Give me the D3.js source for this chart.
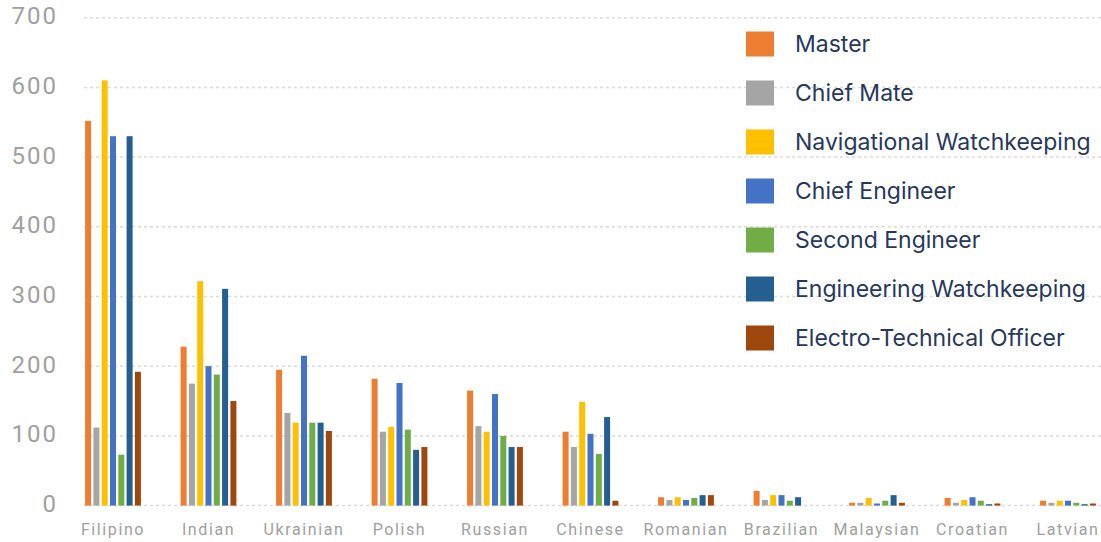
<!DOCTYPE html>
<html>
<head>
<meta charset="utf-8">
<script src="https://cdn.jsdelivr.net/npm/d3@7"></script>
<style>
  html, body { margin: 0; padding: 0; background: #ffffff; }
  svg { display: block; }
</style>
</head>
<body>
<svg id="chart" width="1101" height="542"></svg>
<script>
// Officers holding certificates, by nationality and certificate type
const categories = ["Filipino", "Indian", "Ukrainian", "Polish", "Russian", "Chinese",
                    "Romanian", "Brazilian", "Malaysian", "Croatian", "Latvian"];

const seriesNames = ["Master", "Chief Mate", "Navigational Watchkeeping", "Chief Engineer",
                     "Second Engineer", "Engineering Watchkeeping", "Electro-Technical Officer"];

const master      = [552, 228, 195, 182, 165, 106, 12, 21, 4, 11, 7];
const chiefMate   = [112, 175, 133, 106, 114, 84, 8, 8, 4, 4, 4];
const navWatch    = [610, 322, 119, 113, 106, 149, 12, 15, 11, 8, 7];
const chiefEng    = [530, 200, 215, 176, 160, 103, 8, 15, 3, 12, 7];
const secondEng   = [73, 188, 119, 109, 100, 74, 11, 7, 7, 7, 4];
const engWatch    = [530, 311, 119, 80, 84, 127, 15, 12, 15, 2, 2];
const eto         = [192, 150, 107, 84, 84, 7, 15, 0, 4, 3, 3];

const yTicks = [0, 100, 200, 300, 400, 500, 600, 700];

const seriesValues = [master, chiefMate, navWatch, chiefEng, secondEng, engWatch, eto];
const colors = ["#ED7D31", "#A5A5A5", "#FFC000", "#4472C4", "#70AD47", "#255E91", "#9E480E"];

const svg = d3.select("#chart");

const x = d3.scaleBand()
  .domain(categories)
  .range([65.25, 1115.75]);

const xInner = d3.scaleBand()
  .domain(seriesNames)
  .range([-29.05, 29.05])
  .paddingInner(0.277)
  .paddingOuter(0.1385);

const y = d3.scaleLinear()
  .domain([0, 700])
  .range([505.6, 17.7]);

const color = d3.scaleOrdinal().domain(seriesNames).range(colors);

// dotted gridlines
svg.append("g")
  .selectAll("line")
  .data(yTicks)
  .join("line")
  .attr("x1", 84)
  .attr("x2", 1101)
  .attr("y1", d => y(d))
  .attr("y2", d => y(d))
  .attr("stroke", "#dcdcdc")
  .attr("stroke-width", 1.5)
  .attr("stroke-dasharray", "3,3");

// y axis labels
const yAxis = svg.append("g")
  .attr("transform", "translate(58,0)")
  .call(d3.axisLeft(y).tickValues(yTicks).tickSize(0).tickPadding(0));
yAxis.select(".domain").remove();
yAxis.selectAll("text")
  .attr("dy", "0.25em")
  .style("font-family", "Roboto, 'Liberation Sans', sans-serif")
  .style("font-size", "24px")
  .style("letter-spacing", "2px")
  .style("fill", "#a0a0a0");

// bars
const rows = categories.map((c, i) => ({
  category: c,
  values: seriesNames.map((s, j) => ({ series: s, value: seriesValues[j][i] }))
}));

const groups = svg.append("g")
  .selectAll("g")
  .data(rows)
  .join("g")
  .attr("transform", d => `translate(${x(d.category) + x.bandwidth() / 2},0)`);

groups.selectAll("rect")
  .data(d => d.values.filter(v => v.value > 0))
  .join("rect")
  .attr("x", d => xInner(d.series))
  .attr("width", xInner.bandwidth())
  .attr("y", d => y(d.value))
  .attr("height", d => y(0) - y(d.value))
  .attr("fill", d => color(d.series));

// x axis labels
const xAxis = svg.append("g")
  .attr("transform", `translate(0,${y(0) + 16})`)
  .call(d3.axisBottom(x).tickSize(0).tickPadding(0));
xAxis.select(".domain").remove();
xAxis.selectAll("text")
  .attr("dy", "0.85em")
  .style("font-family", "Roboto, 'Liberation Sans', sans-serif")
  .style("font-size", "16px")
  .style("letter-spacing", "1.6px")
  .style("fill", "#a0a0a0");

// legend
const legend = svg.append("g")
  .selectAll("g")
  .data(seriesNames)
  .join("g")
  .attr("transform", (d, i) => `translate(746,${44 + i * 49})`);

legend.append("rect")
  .attr("x", 0)
  .attr("y", -12.5)
  .attr("width", 28)
  .attr("height", 25)
  .attr("fill", d => color(d));

legend.append("text")
  .attr("x", 49)
  .attr("y", 0)
  .attr("dy", "0.35em")
  .text(d => d)
  .style("font-family", "Inter, 'Noto Sans', sans-serif")
  .style("font-size", "23px")
  .style("fill", "#27385a");
</script>
</body>
</html>
